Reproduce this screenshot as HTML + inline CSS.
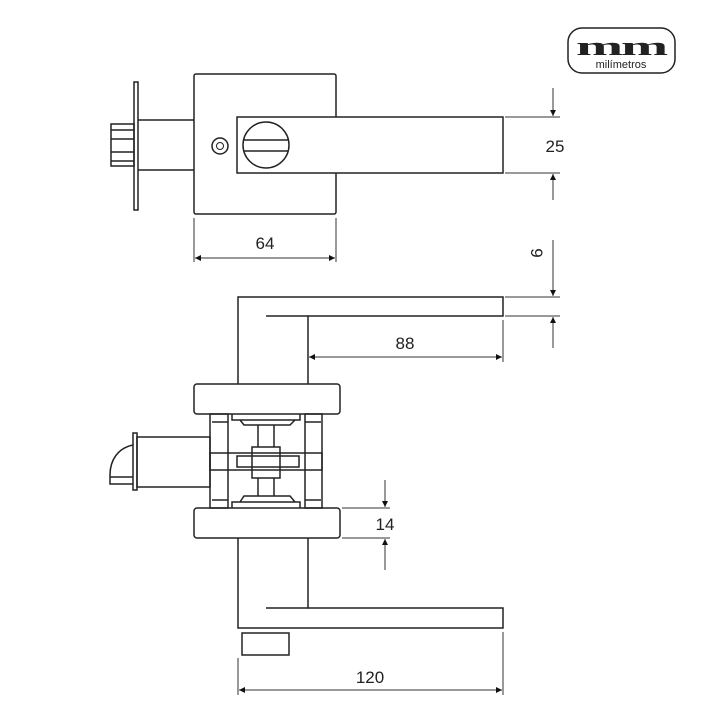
<!DOCTYPE html>
<html><head><style>
html,body{margin:0;padding:0;background:#fff}
svg{display:block}
text{font-family:"Liberation Sans",sans-serif;fill:#222}
</style></head><body>
<svg width="720" height="720" viewBox="0 0 720 720" xmlns="http://www.w3.org/2000/svg">
<defs>
<marker id="a" viewBox="0 0 10 10" refX="10" refY="5" markerWidth="8" markerHeight="6" orient="auto-start-reverse" markerUnits="userSpaceOnUse"><path d="M0,0L10,5L0,10z" fill="#111"/></marker>
</defs>
<g fill="none" stroke="#222" stroke-width="1.5">
<!-- top view -->
<rect x="194" y="74" width="142" height="140" rx="2"/>
<rect x="237" y="117" width="266" height="56" fill="#fff"/>
<circle cx="266" cy="145" r="23"/>
<line x1="244" y1="140" x2="288" y2="140"/>
<line x1="244" y1="151" x2="288" y2="151"/>
<circle cx="220" cy="146" r="8"/>
<circle cx="220" cy="146" r="3.5" stroke-width="1"/>
<rect x="134" y="82" width="4" height="128"/>
<line x1="138" y1="120" x2="194" y2="120"/>
<line x1="138" y1="170" x2="194" y2="170"/>
<rect x="111" y="124" width="23" height="42"/>
<line x1="111" y1="130" x2="134" y2="130"/>
<line x1="111" y1="139" x2="134" y2="139"/>
<line x1="111" y1="152" x2="134" y2="152"/>
<line x1="111" y1="161" x2="134" y2="161"/>
<!-- bottom view top lever -->
<path d="M238,384V297H503V316H308V384"/>
<line x1="266" y1="316" x2="308" y2="316"/>
<rect x="194" y="384" width="146" height="30" rx="3"/>
<rect x="194" y="508" width="146" height="30" rx="3"/>
<!-- mechanism -->
<rect x="210" y="414" width="18" height="94"/>
<rect x="305" y="414" width="17" height="94"/>
<line x1="212" y1="422" x2="228" y2="422"/><line x1="305" y1="422" x2="321" y2="422"/>
<line x1="212" y1="500" x2="228" y2="500"/><line x1="305" y1="500" x2="321" y2="500"/>
<rect x="210" y="453" width="112" height="17"/>
<rect x="237" y="456" width="62" height="11"/>
<rect x="252" y="447" width="28" height="31"/>
<line x1="258" y1="425" x2="258" y2="447"/><line x1="274" y1="425" x2="274" y2="447"/>
<line x1="258" y1="478" x2="258" y2="496"/><line x1="274" y1="478" x2="274" y2="496"/>
<path d="M232,414V420H300V414M240,420L244,425H290L295,420"/>
<path d="M232,508V502H300V508M240,502L244,496H290L295,502"/>
<!-- latch bottom -->
<rect x="133" y="433" width="4" height="57"/>
<rect x="137" y="437" width="73" height="50"/>
<path d="M133,445C118,448 110,460 110,475V484H133"/>
<line x1="110" y1="477" x2="133" y2="477"/>
<!-- lower lever -->
<path d="M238,538V628H503V608H308V538"/>
<line x1="266" y1="608" x2="308" y2="608"/>
<rect x="242" y="633" width="47" height="22"/>
</g>
<!-- dimensions -->
<g stroke="#333" stroke-width="1" fill="none">
<line x1="194" y1="218" x2="194" y2="262"/><line x1="336" y1="218" x2="336" y2="262"/>
<line x1="195" y1="258" x2="335" y2="258" marker-start="url(#a)" marker-end="url(#a)"/>
<line x1="505" y1="117" x2="560" y2="117"/><line x1="505" y1="173" x2="560" y2="173"/>
<line x1="553" y1="88" x2="553" y2="116" marker-end="url(#a)"/>
<line x1="553" y1="200" x2="553" y2="174" marker-end="url(#a)"/>
<line x1="505" y1="297" x2="560" y2="297"/><line x1="505" y1="316" x2="560" y2="316"/>
<line x1="553" y1="240" x2="553" y2="296" marker-end="url(#a)"/>
<line x1="553" y1="348" x2="553" y2="317" marker-end="url(#a)"/>
<line x1="503" y1="320" x2="503" y2="362"/>
<line x1="309" y1="357" x2="502" y2="357" marker-start="url(#a)" marker-end="url(#a)"/>
<line x1="342" y1="508" x2="390" y2="508"/><line x1="342" y1="538" x2="390" y2="538"/>
<line x1="385" y1="480" x2="385" y2="507" marker-end="url(#a)"/>
<line x1="385" y1="570" x2="385" y2="539" marker-end="url(#a)"/>
<line x1="238" y1="658" x2="238" y2="695"/><line x1="503" y1="632" x2="503" y2="695"/>
<line x1="239" y1="690" x2="502" y2="690" marker-start="url(#a)" marker-end="url(#a)"/>
</g>
<g font-size="17">
<text x="265" y="249" text-anchor="middle">64</text>
<text x="555" y="152" text-anchor="middle">25</text>
<text x="537" y="253" text-anchor="middle" transform="rotate(90 537 253)" dy="6">9</text>
<text x="405" y="349" text-anchor="middle">88</text>
<text x="385" y="530" text-anchor="middle">14</text>
<text x="370" y="683" text-anchor="middle">120</text>
</g>
<!-- logo -->
<rect x="568" y="28" width="107" height="45" rx="14" fill="none" stroke="#222" stroke-width="1.5"/>
<text x="621" y="55" text-anchor="middle" style="font-family:'Liberation Serif',serif;font-weight:bold;font-size:26px;letter-spacing:-1px" textLength="90" lengthAdjust="spacingAndGlyphs">mm</text>
<text x="621" y="68" text-anchor="middle" font-size="11">milímetros</text>
</svg>
</body></html>
